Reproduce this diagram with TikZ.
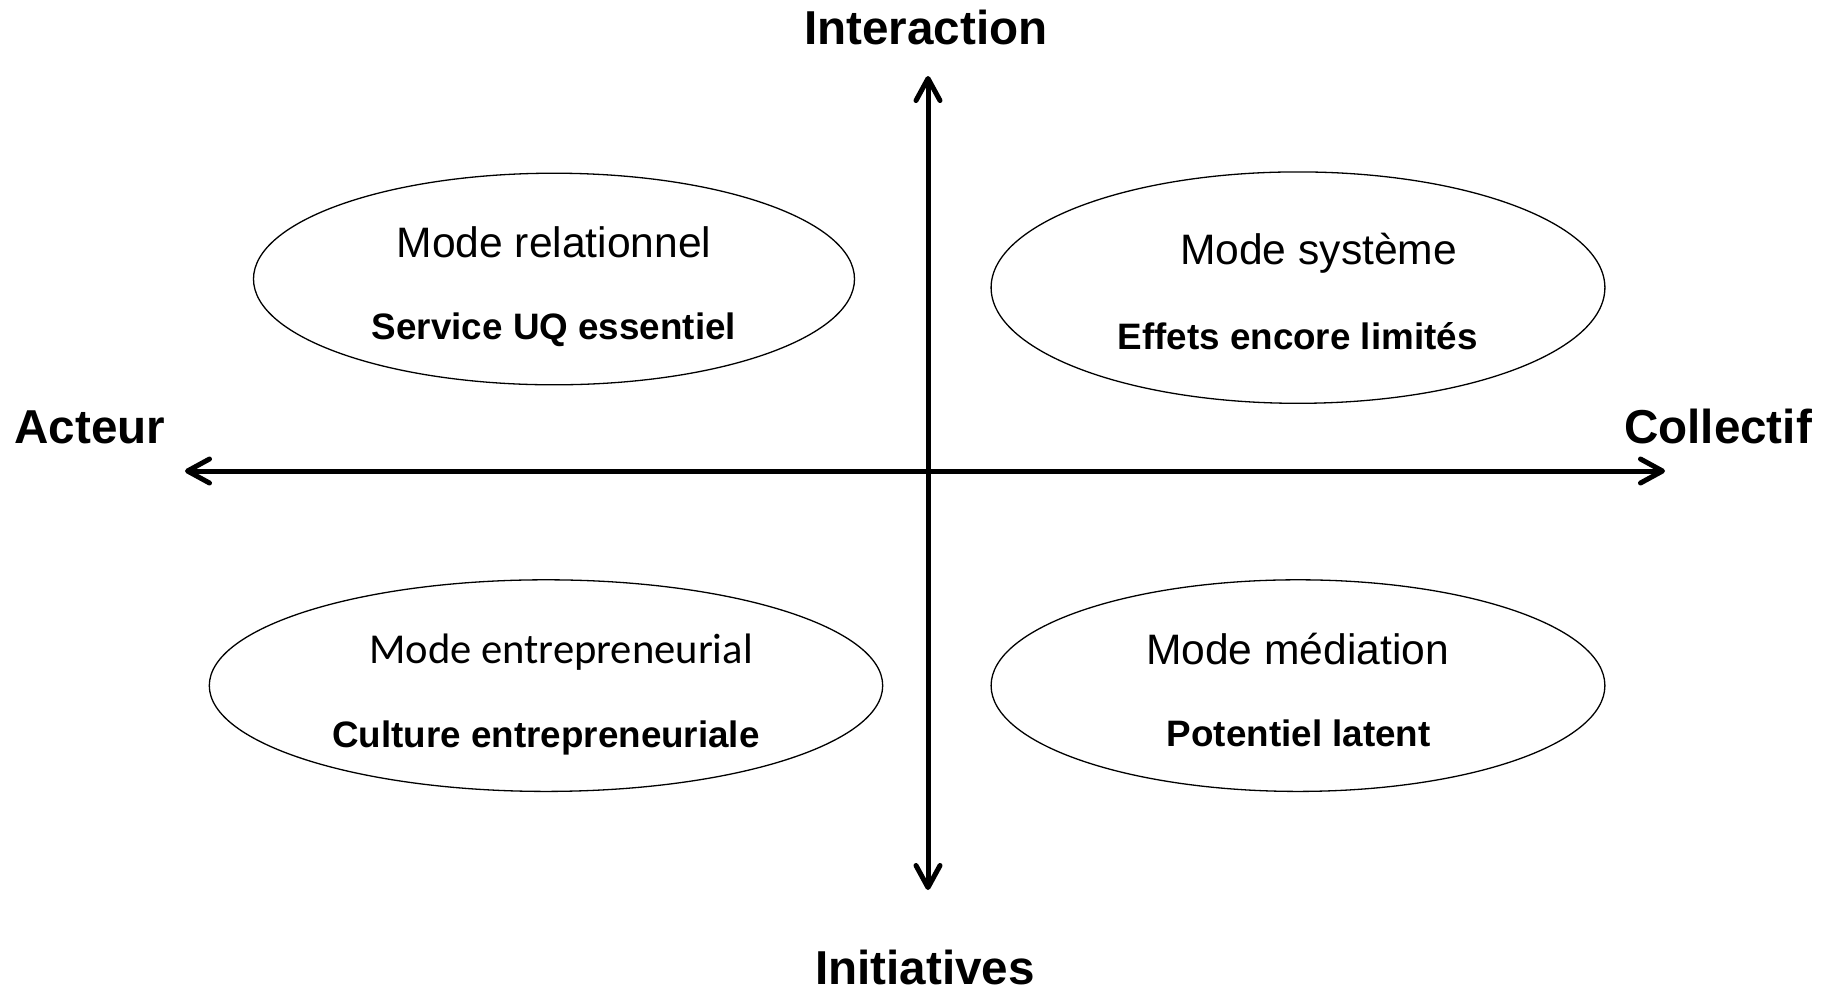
\documentclass[tikz,border=0pt]{standalone}
\usepackage{fontspec}
\setmainfont{Liberation Sans}
\newfontfamily\calibrifont{Carlito}
\usetikzlibrary{shapes.geometric,arrows.meta}
\begin{document}
\begin{tikzpicture}[x=0.5pt,y=-0.5pt,
  axis/.style={line width=2.5pt,line cap=round,
    {Straight Barb[length=11pt,width=12pt,line cap=round,line join=round]}-{Straight Barb[length=11pt,width=12pt,line cap=round,line join=round]}},
  axislabel/.style={anchor=base,inner sep=0pt,font=\fontsize{23.8}{28}\selectfont\bfseries},
  oval/.style={draw,ellipse,line width=0.65pt,inner sep=0pt},
  modetext/.style={anchor=base,inner sep=0pt,font=\fontsize{21.3}{25}\selectfont},
  boldtext/.style={anchor=base,inner sep=0pt,font=\fontsize{18.4}{22}\selectfont\bfseries}]
\useasboundingbox (0,0) rectangle (1833,993);
% axes
\coordinate (top) at (928,76);
\coordinate (bottom) at (928,890);
\coordinate (left) at (185,471);
\coordinate (right) at (1665,471);
\draw[axis] (bottom) -- (top);
\draw[axis] (left) -- (right);
% axis labels
\node[axislabel] (interaction) at (926,44) {Interaction};
\node[axislabel] (acteur) at (90,443) {Acteur};
\node[axislabel] (collectif) at (1718,443) {Collectif};
\node[axislabel] (initiatives) at (925,984) {Initiatives};
% ellipses
\node[oval,minimum width=300.5pt,minimum height=105.8pt] (e1) at (554,279) {};
\node[oval,minimum width=306.9pt,minimum height=115.7pt] (e2) at (1298,287.6) {};
\node[oval,minimum width=336.7pt,minimum height=105.8pt] (e3) at (546,685.6) {};
\node[oval,minimum width=306.9pt,minimum height=105.8pt] (e4) at (1298,685.6) {};
% texts
\node[modetext] (t1) at (554,257) {Mode relationnel};
\node[boldtext] (b1) at (554,339) {Service UQ essentiel};
\node[modetext] (t2) at (1318.6,264) {Mode système};
\node[boldtext] (b2) at (1297.6,349) {Effets encore limités};
\node[modetext,font=\fontsize{21.3}{25}\selectfont\calibrifont] (t3) at (561,663) {Mode entrepreneurial};
\node[boldtext] (b3) at (546,747) {Culture entrepreneuriale};
\node[modetext] (t4) at (1297.6,664) {Mode médiation};
\node[boldtext] (b4) at (1298.8,746) {Potentiel latent};
\end{tikzpicture}
\end{document}
